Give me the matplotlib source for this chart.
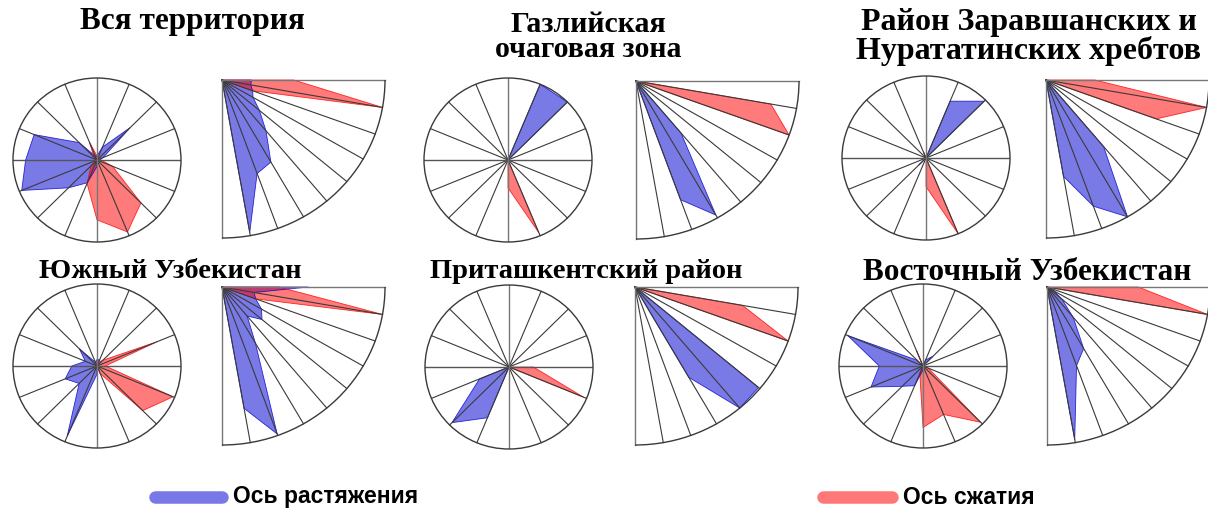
import numpy as np
import matplotlib.pyplot as plt
from matplotlib.patches import Polygon, Circle, Arc
from matplotlib.lines import Line2D

W, H = 1208, 517

# azimuth rose: values at 0, 22.5, ..., 337.5 deg (clockwise from north)
rose_az = np.arange(16) * 22.5
# dip diagram: values at 0, 10, ..., 90 deg
dip_deg = np.arange(10) * 10

titles = ["Вся территория", "Газлийская\nочаговая зона", "Район Заравшанских и\nНурататинских хребтов",
          "Южный Узбекистан", "Приташкентский район", "Восточный Узбекистан"]

rose_blue_1 = [0.05, 0.17, 0.56, 0.08, 0.03, 0, 0, 0, 0.08, 0.3, 0.48, 0.97, 0.85, 0.81, 0.3, 0.05]
rose_red_1 = [0.05, 0, 0, 0, 0.05, 0.2, 0.74, 0.95, 0.73, 0.31, 0.1, 0, 0, 0, 0.05, 0.24]
dip_blue_1 = [0.18, 0.18, 0.2, 0.22, 0.3, 0.42, 0.6, 0.63, 0.98, 0]
dip_red_1 = [0.44, 1.0, 0.2, 0, 0, 0, 0, 0, 0, 0]

rose_blue_2 = [0, 1.0, 1.0, 0, 0, 0, 0, 0, 0, 0, 0, 0, 0, 0, 0, 0]
rose_red_2 = [0, 0, 0, 0, 0, 0, 0, 0.96, 0.34, 0, 0, 0, 0, 0, 0, 0]
dip_blue_2 = [0, 0, 0, 0, 0, 0.43, 0.98, 0.8, 0, 0]
dip_red_2 = [0, 0.84, 1.0, 0, 0, 0, 0, 0, 0, 0]

rose_blue_3 = [0, 0.75, 0.98, 0, 0, 0, 0, 0, 0, 0, 0.12, 0, 0, 0, 0, 0]
rose_red_3 = [0, 0, 0, 0, 0, 0, 0, 1.0, 0.35, 0, 0, 0, 0, 0, 0, 0.08]
dip_blue_3 = [0, 0, 0, 0, 0, 0.55, 1.0, 0.85, 0.62, 0]
dip_red_3 = [0.3, 1.0, 0.72, 0, 0, 0, 0, 0, 0, 0]

rose_blue_4 = [0.08, 0.08, 0, 0, 0, 0, 0, 0, 0.1, 0.93, 0.3, 0.41, 0.3, 0.15, 0.3, 0.05]
rose_red_4 = [0.05, 0.05, 0.1, 0.77, 0.1, 0.98, 0.77, 0.1, 0, 0, 0, 0, 0, 0, 0, 0]
dip_blue_4 = [0.53, 0.2, 0.22, 0.28, 0.32, 0.24, 0.41, 0.99, 0.78, 0]
dip_red_4 = [0.35, 1.0, 0.22, 0, 0, 0, 0, 0, 0, 0]

rose_blue_5 = [0, 0, 0, 0, 0, 0, 0, 0, 0, 0.67, 0.96, 0.38, 0, 0, 0, 0]
rose_red_5 = [0, 0, 0, 0, 0.29, 0.96, 0, 0, 0, 0, 0, 0, 0, 0, 0, 0]
dip_blue_5 = [0, 0, 0, 0, 0.99, 1.0, 0.66, 0, 0, 0]
dip_red_5 = [0, 0.67, 1.0, 0, 0, 0, 0, 0, 0, 0]

rose_blue_6 = [0, 0.08, 0.17, 0, 0, 0, 0, 0, 0.05, 0.26, 0.35, 0.67, 0.52, 0.97, 0.1, 0]
rose_red_6 = [0, 0, 0, 0, 0, 0.07, 0.97, 0.64, 0.75, 0.1, 0, 0, 0, 0, 0, 0.21]
dip_blue_6 = [0, 0, 0, 0.05, 0.12, 0.25, 0.45, 0.53, 0.98, 0]
dip_red_6 = [0.56, 1.0, 0, 0, 0, 0, 0, 0, 0, 0]

rose_blue = [rose_blue_1, rose_blue_2, rose_blue_3, rose_blue_4, rose_blue_5, rose_blue_6]
rose_red = [rose_red_1, rose_red_2, rose_red_3, rose_red_4, rose_red_5, rose_red_6]
dip_blue = [dip_blue_1, dip_blue_2, dip_blue_3, dip_blue_4, dip_blue_5, dip_blue_6]
dip_red = [dip_red_1, dip_red_2, dip_red_3, dip_red_4, dip_red_5, dip_red_6]

# layout in pixels: circle centres, quarter origins, title centres and sizes
circle_c = [(97, 160), (508, 160), (926, 158), (97, 366), (509, 367), (923, 366)]
quarter_o = [(222, 80), (636, 81), (1046, 80), (222, 287), (635, 287), (1047, 287)]
title_xy = [(192, 22), (588, 37), (1029, 37), (170, 272), (586, 272), (1027, 272)]
title_fs = [22.5, 21.5, 23, 20.5, 20.5, 22.5]
CRX, CRY = 84, 82
QRX, QRY = 163, 158

BLUE = (0.0, 0.0, 0.82)
RED = (1.0, 0.0, 0.0)
ALPHA = 0.52
GRID = '#3a3a3a'

fig = plt.figure(figsize=(W / 100, H / 100), dpi=100)


def px_axes(left, top, w, h):
    return fig.add_axes([left / W, 1 - (top + h) / H, w / W, h / H])


for i in range(6):
    # --- azimuth rose ---
    cx, cy = circle_c[i]
    ax = px_axes(cx - CRX, cy - CRY, 2 * CRX, 2 * CRY)
    ax.set_xlim(-1, 1)
    ax.set_ylim(-1, 1)
    ax.axis('off')
    th = np.radians(rose_az)
    for vals, col in [(rose_blue[i], BLUE), (rose_red[i], RED)]:
        r = np.array(vals)
        pts = np.column_stack([r * np.sin(th), r * np.cos(th)])
        ax.add_patch(Polygon(pts, closed=True, facecolor=col, alpha=ALPHA, edgecolor='none', zorder=1))
        ax.add_patch(Polygon(pts, closed=True, facecolor='none', edgecolor=col, lw=0.6, alpha=0.8, zorder=1.5))
    for a in th:
        if np.isclose(a % (np.pi / 2), 0):
            continue
        ax.plot([0, np.sin(a)], [0, np.cos(a)], color=GRID, lw=0.8, zorder=2)
    ax.plot([-1, 1], [0, 0], color='#555555', lw=1.0, zorder=2)
    ax.plot([0, 0], [-1, 1], color='#777777', lw=1.0, zorder=2)
    ax.add_patch(Circle((0, 0), 1, facecolor='none', edgecolor=GRID, lw=1.0, zorder=3, clip_on=False))

    # --- dip quarter ---
    ox, oy = quarter_o[i]
    qx = px_axes(ox, oy, QRX, QRY)
    qx.set_xlim(0, 1)
    qx.set_ylim(-1, 0)
    qx.axis('off')
    d = np.radians(dip_deg)
    for vals, col in [(dip_blue[i], BLUE), (dip_red[i], RED)]:
        r = np.array(vals)
        pts = np.vstack([[0, 0], np.column_stack([r * np.cos(d), -r * np.sin(d)])])
        qx.add_patch(Polygon(pts, closed=True, facecolor=col, alpha=ALPHA, edgecolor='none', zorder=1, clip_on=False))
        qx.add_patch(Polygon(pts, closed=True, facecolor='none', edgecolor=col, lw=0.6, alpha=0.8, zorder=1.5, clip_on=False))
    for a in d[1:-1]:
        qx.plot([0, np.cos(a)], [0, -np.sin(a)], color=GRID, lw=0.8, zorder=2, clip_on=False)
    qx.plot([0, 1], [0, 0], color='#777777', lw=1.0, zorder=2, clip_on=False)
    qx.plot([0, 0], [0, -1], color='#777777', lw=1.0, zorder=2, clip_on=False)
    qx.add_patch(Arc((0, 0), 2, 2, theta1=270, theta2=360, edgecolor=GRID, lw=1.0, zorder=3, clip_on=False))

    tx, ty = title_xy[i]
    fig.text(tx / W, 1 - ty / H, titles[i], ha='center', va='center', fontsize=title_fs[i],
             fontweight='bold', family='Liberation Serif', linespacing=0.92)

# legend
fig.add_artist(Line2D([155 / W, 222 / W], [1 - 497 / H, 1 - 497 / H], color=(0.47, 0.47, 0.9),
                      lw=9, solid_capstyle='round'))
fig.text(233 / W, 1 - 497 / H, "Ось растяжения", ha='left', va='center', fontsize=16.5,
         fontweight='bold', family='Liberation Sans')
fig.add_artist(Line2D([823 / W, 892 / W], [1 - 497 / H, 1 - 497 / H], color=(1.0, 0.47, 0.47),
                      lw=9, solid_capstyle='round'))
fig.text(903 / W, 1 - 497 / H, "Ось сжатия", ha='left', va='center', fontsize=16.5,
         fontweight='bold', family='Liberation Sans')

plt.savefig("out.png", dpi=100)
